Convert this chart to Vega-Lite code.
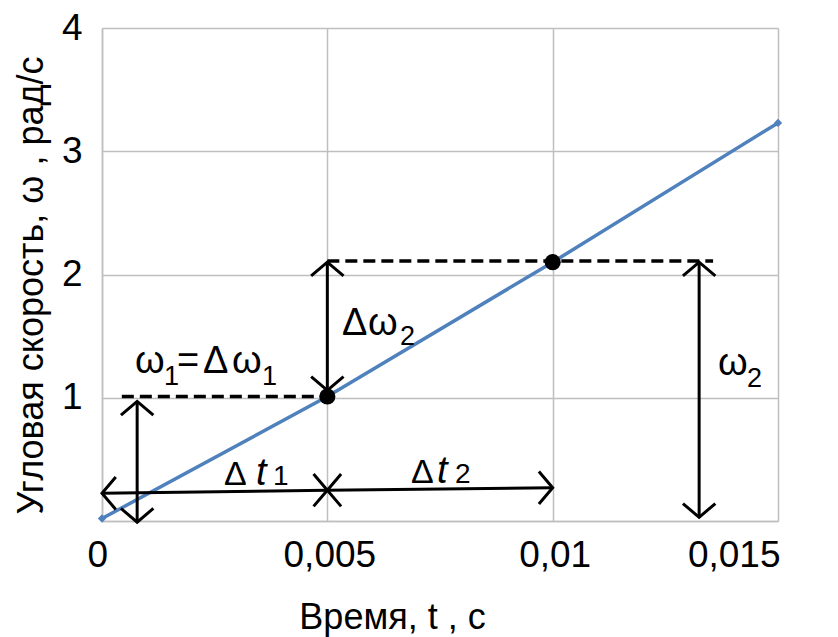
{
  "$schema": "https://vega.github.io/schema/vega-lite/v6.json",
  "autosize": {"type": "none"},
  "padding": {"left": 102, "top": 28, "right": 60, "bottom": 116},
  "width": 676,
  "height": 493,
  "background": "white",
  "config": {
    "view": {"stroke": null},
    "font": "Liberation Sans",
    "axis": {
      "labelFont": "Liberation Sans",
      "titleFont": "Liberation Sans",
      "labelColor": "#000000",
      "titleColor": "#000000",
      "titleFontWeight": "normal",
      "ticks": false,
      "domainColor": "#bfbfbf",
      "domainWidth": 1.5,
      "gridColor": "#bfbfbf",
      "gridWidth": 1.5
    }
  },
  "datasets": {
    "line": [
      {"t": 0, "w": 0.02},
      {"t": 0.005, "w": 1.01},
      {"t": 0.01, "w": 2.1},
      {"t": 0.015, "w": 3.23}
    ],
    "dots": [
      {"t": 0.005, "w": 1.01},
      {"t": 0.01, "w": 2.1}
    ],
    "dashes": [
      {"t": 0.00044, "w": 1.01, "t2": 0.005, "w2": 1.01},
      {"t": 0.005, "w": 2.11, "t2": 0.01356, "w2": 2.11}
    ],
    "arrows": [
      {"t": 0.00078, "w": 0.97, "t2": 0.00078, "w2": -0.01},
      {"t": 0, "w": 0.225, "t2": 0.005, "w2": 0.25},
      {"t": 0.005, "w": 0.25, "t2": 0.01, "w2": 0.27},
      {"t": 0.005, "w": 2.1, "t2": 0.005, "w2": 1.06},
      {"t": 0.01325, "w": 2.1, "t2": 0.01325, "w2": 0.03}
    ],
    "heads": [
      {"t": 0.00078, "w": 0.97, "dir": "up"},
      {"t": 0.00078, "w": -0.01, "dir": "down"},
      {"t": 0, "w": 0.225, "dir": "left"},
      {"t": 0.005, "w": 0.25, "dir": "right"},
      {"t": 0.005, "w": 0.25, "dir": "left"},
      {"t": 0.01, "w": 0.27, "dir": "right"},
      {"t": 0.005, "w": 2.1, "dir": "up"},
      {"t": 0.005, "w": 1.06, "dir": "down"},
      {"t": 0.01325, "w": 2.1, "dir": "up"},
      {"t": 0.01325, "w": 0.03, "dir": "down"}
    ],
    "labels": [
      {"t": 0.000732, "w": 1.2008, "kind": "sym", "text": "ω"},
      {"t": 0.001376, "w": 1.1034, "kind": "sub", "text": "1"},
      {"t": 0.001664, "w": 1.2008, "kind": "sym", "text": "="},
      {"t": 0.002241, "w": 1.2008, "kind": "sym", "text": "Δ"},
      {"t": 0.002885, "w": 1.2008, "kind": "sym", "text": "ω"},
      {"t": 0.00355, "w": 1.1034, "kind": "sub", "text": "1"},
      {"t": 0.005325, "w": 1.509, "kind": "sym", "text": "Δ"},
      {"t": 0.005903, "w": 1.509, "kind": "sym", "text": "ω"},
      {"t": 0.00661, "w": 1.428, "kind": "sub", "text": "2"},
      {"t": 0.013669, "w": 1.1846, "kind": "sym", "text": "ω"},
      {"t": 0.014312, "w": 1.087, "kind": "sub", "text": "2"},
      {"t": 0.002707, "w": 0.292, "kind": "tsym", "text": "Δ"},
      {"t": 0.003417, "w": 0.292, "kind": "t", "text": "t"},
      {"t": 0.003794, "w": 0.292, "kind": "tsub", "text": "1"},
      {"t": 0.006856, "w": 0.308, "kind": "tsym", "text": "Δ"},
      {"t": 0.007433, "w": 0.308, "kind": "t", "text": "t"},
      {"t": 0.007833, "w": 0.308, "kind": "tsub", "text": "2"}
    ]
  },
  "layer": [
    {
      "data": {"name": "line"},
      "mark": {"type": "line", "color": "#4F81BD", "strokeWidth": 3.5},
      "encoding": {
        "x": {
          "field": "t", "type": "quantitative",
          "scale": {"domain": [0, 0.015], "nice": false, "zero": false},
          "axis": {
            "values": [0, 0.005, 0.01, 0.015],
            "grid": true,
            "labelFontSize": 37,
            "labelPadding": 16,
            "labelExpr": "replace(format(datum.value, '~g'), '.', ',')",
            "labelOffset": {"condition": {"test": "datum.value === 0", "value": -15}, "value": 2},
            "title": "Время, t , с",
            "titleFontSize": 36,
            "titleX": 290,
            "titleY": 107,
            "titleBaseline": "alphabetic",
            "titleAlign": "center"
          }
        },
        "y": {
          "field": "w", "type": "quantitative",
          "scale": {"domain": [0, 4], "nice": false, "zero": false},
          "axis": {
            "values": [0, 1, 2, 3, 4],
            "grid": true,
            "labelFontSize": 37,
            "labelPadding": 20,
            "labelExpr": "datum.value === 0 ? '' : format(datum.value, 'd')",
            "title": "Угловая скорость, ω , рад/с",
            "titleFontSize": 36,
            "titleAngle": -90,
            "titleX": -60,
            "titleY": 257,
            "titleBaseline": "alphabetic",
            "titleAlign": "center"
          }
        }
      }
    },
    {
      "data": {"name": "line"},
      "mark": {"type": "point", "shape": "diamond", "filled": true, "color": "#4F81BD", "size": 70, "opacity": 1},
      "encoding": {
        "x": {"field": "t", "type": "quantitative"},
        "y": {"field": "w", "type": "quantitative"}
      }
    },
    {
      "data": {"name": "dashes"},
      "mark": {"type": "rule", "color": "#000000", "strokeWidth": 3.5, "strokeDash": [12, 6]},
      "encoding": {
        "x": {"field": "t", "type": "quantitative"},
        "y": {"field": "w", "type": "quantitative"},
        "x2": {"field": "t2"},
        "y2": {"field": "w2"}
      }
    },
    {
      "data": {"name": "arrows"},
      "mark": {"type": "rule", "color": "#000000", "strokeWidth": 3},
      "encoding": {
        "x": {"field": "t", "type": "quantitative"},
        "y": {"field": "w", "type": "quantitative"},
        "x2": {"field": "t2"},
        "y2": {"field": "w2"}
      }
    },
    {
      "data": {"name": "heads"},
      "transform": [{"filter": "datum.dir === 'up'"}],
      "mark": {"type": "point", "shape": "M-1,0.85L0,0L1,0.85", "filled": false, "stroke": "#000000", "strokeWidth": 3, "size": 1050, "opacity": 1, "angle": 0},
      "encoding": {
        "x": {"field": "t", "type": "quantitative"},
        "y": {"field": "w", "type": "quantitative"}
      }
    },
    {
      "data": {"name": "heads"},
      "transform": [{"filter": "datum.dir === 'down'"}],
      "mark": {"type": "point", "shape": "M-1,0.85L0,0L1,0.85", "filled": false, "stroke": "#000000", "strokeWidth": 3, "size": 1050, "opacity": 1, "angle": 180},
      "encoding": {
        "x": {"field": "t", "type": "quantitative"},
        "y": {"field": "w", "type": "quantitative"}
      }
    },
    {
      "data": {"name": "heads"},
      "transform": [{"filter": "datum.dir === 'left'"}],
      "mark": {"type": "point", "shape": "M-1,0.85L0,0L1,0.85", "filled": false, "stroke": "#000000", "strokeWidth": 3, "size": 1050, "opacity": 1, "angle": 270},
      "encoding": {
        "x": {"field": "t", "type": "quantitative"},
        "y": {"field": "w", "type": "quantitative"}
      }
    },
    {
      "data": {"name": "heads"},
      "transform": [{"filter": "datum.dir === 'right'"}],
      "mark": {"type": "point", "shape": "M-1,0.85L0,0L1,0.85", "filled": false, "stroke": "#000000", "strokeWidth": 3, "size": 1050, "opacity": 1, "angle": 90},
      "encoding": {
        "x": {"field": "t", "type": "quantitative"},
        "y": {"field": "w", "type": "quantitative"}
      }
    },
    {
      "data": {"name": "dots"},
      "mark": {"type": "point", "shape": "circle", "filled": true, "color": "#000000", "size": 260, "opacity": 1},
      "encoding": {
        "x": {"field": "t", "type": "quantitative"},
        "y": {"field": "w", "type": "quantitative"}
      }
    },
    {
      "data": {"name": "labels"},
      "transform": [{"filter": "datum.kind === 'sym'"}],
      "mark": {"type": "text", "align": "left", "baseline": "alphabetic", "fontSize": 38, "font": "Liberation Sans", "color": "#000000"},
      "encoding": {
        "x": {"field": "t", "type": "quantitative"},
        "y": {"field": "w", "type": "quantitative"},
        "text": {"field": "text"}
      }
    },
    {
      "data": {"name": "labels"},
      "transform": [{"filter": "datum.kind === 'sub'"}],
      "mark": {"type": "text", "align": "left", "baseline": "alphabetic", "fontSize": 27, "font": "Liberation Sans", "color": "#000000"},
      "encoding": {
        "x": {"field": "t", "type": "quantitative"},
        "y": {"field": "w", "type": "quantitative"},
        "text": {"field": "text"}
      }
    },
    {
      "data": {"name": "labels"},
      "transform": [{"filter": "datum.kind === 'tsym'"}],
      "mark": {"type": "text", "align": "left", "baseline": "alphabetic", "fontSize": 34, "font": "Liberation Sans", "color": "#000000"},
      "encoding": {
        "x": {"field": "t", "type": "quantitative"},
        "y": {"field": "w", "type": "quantitative"},
        "text": {"field": "text"}
      }
    },
    {
      "data": {"name": "labels"},
      "transform": [{"filter": "datum.kind === 't'"}],
      "mark": {"type": "text", "align": "left", "baseline": "alphabetic", "fontSize": 38, "fontStyle": "italic", "font": "Liberation Sans", "color": "#000000"},
      "encoding": {
        "x": {"field": "t", "type": "quantitative"},
        "y": {"field": "w", "type": "quantitative"},
        "text": {"field": "text"}
      }
    },
    {
      "data": {"name": "labels"},
      "transform": [{"filter": "datum.kind === 'tsub'"}],
      "mark": {"type": "text", "align": "left", "baseline": "alphabetic", "fontSize": 28, "font": "Liberation Sans", "color": "#000000"},
      "encoding": {
        "x": {"field": "t", "type": "quantitative"},
        "y": {"field": "w", "type": "quantitative"},
        "text": {"field": "text"}
      }
    }
  ]
}
